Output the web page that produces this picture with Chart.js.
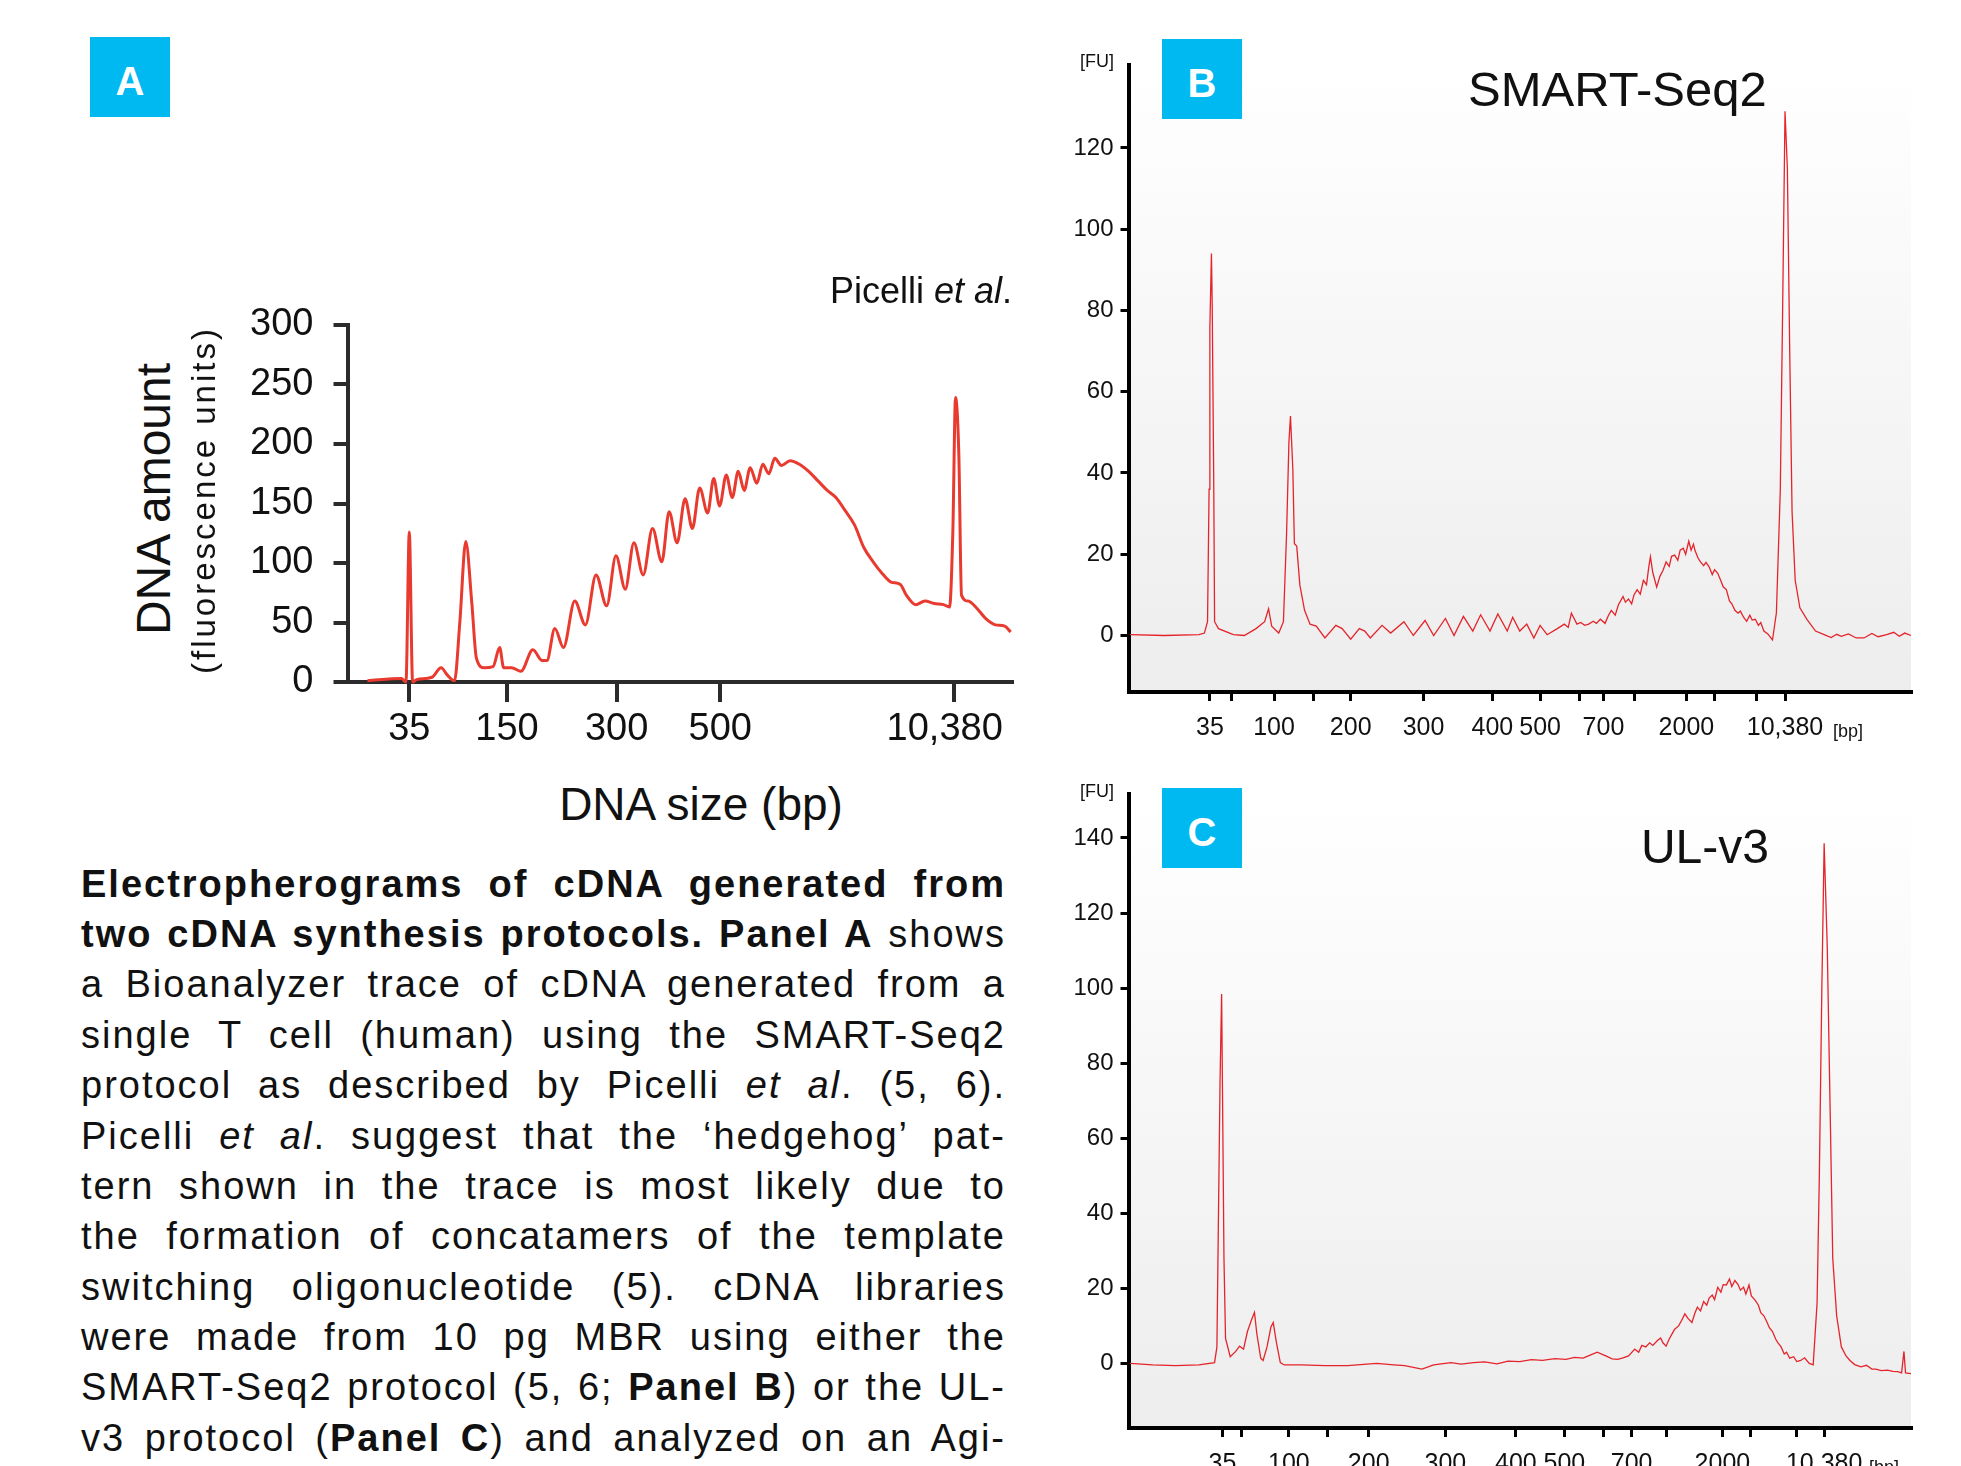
<!DOCTYPE html>
<html>
<head>
<meta charset="utf-8">
<script src="https://cdn.jsdelivr.net/npm/chart.js@4.4.1/dist/chart.umd.min.js"></script>
<style>
  html, body { margin:0; padding:0; background:#fff; }
  body { width:1961px; height:1466px; position:relative; overflow:hidden;
         font-family:'Liberation Sans', Arial, sans-serif; color:#111; }
  canvas { position:absolute; }
  .t { position:absolute; white-space:nowrap; }
  .box { position:absolute; width:80px; height:80px; background:#00b9f1; color:#fff;
         font-weight:bold; font-size:40px; line-height:88px; text-align:center; }
  .ln { position:absolute; left:81px; width:925px; font-size:38px; line-height:38px; letter-spacing:2px;
        text-align:justify; text-align-last:justify; }
  .rot { position:absolute; white-space:nowrap; transform:translate(-50%,-50%) rotate(-90deg); }
</style>
</head>
<body>

<!-- panel A -->
<div class="box" style="left:90px;top:37px">A</div>
<canvas id="chartA" width="830" height="460" style="left:200px;top:300px"></canvas>
<div class="t" style="left:700px;top:273px;width:312px;text-align:right;font-size:36px;line-height:36px">Picelli <i>et al</i>.</div>
<div class="rot" style="left:153px;top:499px;font-size:48px">DNA amount</div>
<div class="rot" style="left:204px;top:500px;font-size:33px;letter-spacing:3px">(fluorescence units)</div>
<div class="t" style="left:451px;top:781px;width:500px;text-align:center;font-size:46px;line-height:46px">DNA size (bp)</div>

<!-- caption -->
<div class="ln" style="top:865px"><b>Electropherograms of cDNA generated from</b></div>
<div class="ln" style="top:915px"><b>two cDNA synthesis protocols. Panel A</b> shows</div>
<div class="ln" style="top:965px">a Bioanalyzer trace of cDNA generated from a</div>
<div class="ln" style="top:1016px">single T cell (human) using the SMART-Seq2</div>
<div class="ln" style="top:1066px">protocol as described by Picelli <i>et al</i>. (5, 6).</div>
<div class="ln" style="top:1117px">Picelli <i>et al</i>. suggest that the ‘hedgehog’ pat-</div>
<div class="ln" style="top:1167px">tern shown in the trace is most likely due to</div>
<div class="ln" style="top:1217px">the formation of concatamers of the template</div>
<div class="ln" style="top:1268px">switching oligonucleotide (5). cDNA libraries</div>
<div class="ln" style="top:1318px">were made from 10 pg MBR using either the</div>
<div class="ln" style="top:1368px">SMART-Seq2 protocol (5, 6; <b>Panel B</b>) or the UL-</div>
<div class="ln" style="top:1419px">v3 protocol (<b>Panel C</b>) and analyzed on an Agi-</div>

<!-- panel B -->
<canvas id="chartB" width="900" height="730" style="left:1040px;top:40px"></canvas>
<div class="box" style="left:1162px;top:39px">B</div>
<div class="t" style="left:1080px;top:52px;font-size:18px;line-height:18px">[FU]</div>
<div class="t" style="left:1468px;top:65px;font-size:49px;line-height:49px">SMART-Seq2</div>
<div class="t" style="left:1833px;top:722px;font-size:18px;line-height:18px">[bp]</div>

<!-- panel C -->
<canvas id="chartC" width="900" height="696" style="left:1040px;top:770px"></canvas>
<div class="box" style="left:1162px;top:788px">C</div>
<div class="t" style="left:1080px;top:782px;font-size:18px;line-height:18px">[FU]</div>
<div class="t" style="left:1500px;top:823px;width:269px;text-align:right;font-size:48px;line-height:48px">UL-v3</div>
<div class="t" style="left:1869px;top:1458px;font-size:18px;line-height:18px">[bp]</div>

<script>
// x positions are migration positions (0-100 across the axis), y in fluorescence units

// panel A (Picelli et al.)
const aTickPos = [9.3, 24.0, 40.5, 56.1, 91.3]
const aTickLabels = ['35', '150', '300', '500', '10,380\u2002']
const aYTicks = [0, 50, 100, 150, 200, 250, 300]
const aX = [3.0, 8.1, 8.8, 9.3, 9.8, 10.4, 12.7, 14.1, 15.0, 16.1, 16.9, 17.8, 18.7, 19.4, 20.6, 21.9, 22.9, 23.5, 24.7, 26.1,
  27.9, 29.3, 30.0, 31.2, 32.5, 34.2, 35.8, 37.4, 39.0, 40.4, 41.8, 43.1, 44.5, 45.9, 47.3, 48.4, 49.6, 50.8, 51.9, 53.0,
  54.2, 55.1, 56.0, 57.0, 57.9, 58.8, 59.7, 60.6, 61.6, 62.5, 63.4, 64.3, 65.3, 66.6, 68.0, 69.4, 70.8, 72.2, 73.5, 74.9,
  76.3, 77.7, 79.1, 80.5, 81.8, 83.2, 84.1, 85.5, 86.9, 88.3, 89.7, 90.6, 91.1, 91.5, 92.0, 92.4, 93.4, 94.7, 96.1, 97.5,
  98.9, 99.8]
const aY = [1, 3, 0, 126, 0, 2, 4, 12, 6, 1, 50, 118, 67, 20, 12, 13, 29, 12, 12, 9,
  27, 18, 18, 45, 29, 68, 48, 90, 64, 106, 78, 117, 90, 129, 101, 143, 117, 154, 129, 163,
  142, 171, 148, 174, 155, 177, 161, 180, 167, 183, 175, 188, 182, 186, 183, 177, 169, 161, 155, 144,
  132, 113, 101, 91, 84, 82, 73, 65, 68, 66, 65, 63, 127, 239, 191, 73, 68, 62, 53, 48,
  47, 42]

// ladder ticks shared by B and C
const ladderLabels = ['35', '', '100', '', '200', '300', '400', '500', '', '700', '', '2000', '', '', '10,380']
const fuTicksB = [0, 20, 40, 60, 80, 100, 120]
const fuTicksC = [0, 20, 40, 60, 80, 100, 120, 140]

// panel B (SMART-Seq2)
const bTickPos = [10.4, 13.1, 18.6, 23.7, 28.4, 37.7, 46.5, 52.6, 57.6, 60.7, 64.7, 71.3, 74.9, 80.2, 83.9]
const bX = [0.2, 4.6, 9.0, 9.7, 10.1, 10.3, 10.4, 10.6, 10.7, 10.9,
  11.0, 11.5, 13.4, 14.8, 16.3, 17.4, 17.9, 18.3, 19.2, 19.8,
  20.2, 20.5, 20.7, 21.0, 21.2, 21.5, 21.9, 22.5, 23.2, 24.0,
  25.1, 26.5, 27.3, 28.4, 29.5, 30.2, 30.9, 32.4, 33.5, 35.2,
  36.4, 37.9, 39.0, 40.5, 41.6, 42.8, 44.0, 45.0, 46.2, 47.2,
  48.4, 49.1, 50.0, 50.9, 51.8, 52.6, 53.5, 54.8, 55.7, 56.2,
  56.6, 57.0, 57.3, 57.8, 58.3, 58.8, 59.4, 59.8, 60.3, 60.9,
  61.3, 61.7, 62.2, 62.6, 63.2, 63.5, 63.9, 64.3, 64.6, 65.0,
  65.4, 65.8, 66.2, 66.5, 66.7, 67.0, 67.5, 67.9, 68.3, 68.7,
  69.1, 69.4, 69.8, 70.2, 70.5, 70.9, 71.2, 71.6, 71.9, 72.2,
  72.4, 72.8, 73.1, 73.5, 73.8, 74.2, 74.6, 74.9, 75.3, 75.7,
  76.0, 76.4, 76.8, 77.1, 77.5, 77.9, 78.2, 78.6, 79.0, 79.4,
  79.7, 80.1, 80.5, 80.8, 81.2, 81.7, 82.3, 82.8, 83.3, 83.6,
  83.9, 84.2, 84.5, 84.8, 85.2, 85.8, 86.7, 87.8, 88.9, 89.8,
  90.5, 91.1, 92.0, 93.0, 94.0, 95.0, 95.8, 96.9, 97.8, 98.5,
  99.2, 100]
const bY = [0.2, 0, 0.2, 0.6, 3.4, 36, 76, 94, 81, 36,
  3.4, 1.7, 0.2, 0, 1.7, 3.4, 6.6, 2.3, 0.6, 3.4,
  25, 47.5, 54, 41, 22.6, 22, 12.4, 6.2, 2.8, 2.3,
  -0.6, 2.5, 1.7, -0.9, 1.7, 1.1, -0.6, 2.5, 0.6, 3.4,
  0, 3.7, 0, 4.2, 0, 4.7, 1.1, 5.1, 1.1, 5.3,
  1.1, 4.5, 1.1, 2.8, -0.6, 2.5, 0.2, 1.7, 2.8, 2.0,
  5.5, 4.0, 2.8, 3.2, 2.5, 2.8, 3.5, 3.0, 4.0, 3.0,
  4.8, 6.2, 5.0, 7.5, 9.6, 8.2, 9.0, 7.8, 10.0, 11.3,
  10.2, 13.6, 12.5, 17.0, 19.4, 15.5, 11.9, 14.5, 16.0, 18.1,
  17.0, 19.5, 19.8, 18.5, 21.0, 21.5, 20.0, 23.2, 21.0, 22.5,
  20.9, 19.0, 18.1, 17.2, 18.0, 16.9, 15.0, 16.2, 15.3, 13.5,
  12.0, 11.3, 8.5, 7.8, 6.2, 5.5, 6.0, 4.5, 3.5, 5.0,
  3.8, 4.0, 2.5, 3.2, 1.1, 0.4, -1.1, 5.6, 36, 81,
  129, 115, 70, 30.5, 13.6, 6.8, 4.0, 1.1, 0.2, -0.5,
  0.3, -0.2, 0.4, -0.6, -0.6, 0.5, -0.3, 0.2, 0.8, -0.2,
  0.6, 0]

// panel C (UL-v3)
const cTickPos = [12.0, 14.4, 20.5, 25.4, 30.7, 40.5, 49.5, 55.7, 60.7, 64.3, 68.8, 75.9, 79.5, 85.4, 88.9]
const cX = [0.2, 3.1, 6.0, 9.0, 11.0, 11.3, 11.5, 11.7, 11.9, 12.0,
  12.2, 12.4, 13.0, 13.7, 14.2, 14.7, 15.2, 15.7, 16.1, 16.4,
  16.9, 17.2, 17.7, 18.2, 18.5, 18.9, 19.4, 19.9, 22.1, 25.1,
  28.0, 31.7, 33.9, 35.3, 37.5, 39.0, 41.2, 42.5, 44.1, 45.5,
  47.1, 48.5, 50.0, 51.5, 52.9, 54.5, 55.9, 57.0, 58.1, 59.0,
  59.9, 61.0, 61.8, 62.5, 63.2, 63.9, 64.7, 65.2, 65.6, 66.1,
  66.6, 67.0, 67.6, 68.0, 68.3, 68.7, 69.1, 69.5, 69.8, 70.3,
  70.7, 71.1, 71.5, 72.0, 72.4, 72.7, 73.1, 73.5, 73.9, 74.2,
  74.6, 74.9, 75.3, 75.7, 76.0, 76.4, 76.8, 77.1, 77.5, 77.9,
  78.2, 78.6, 78.9, 79.3, 79.6, 80.1, 80.5, 80.8, 81.2, 81.6,
  81.9, 82.3, 82.7, 83.0, 83.4, 83.8, 84.1, 84.5, 85.0, 85.4,
  85.9, 86.4, 87.0, 87.5, 88.0, 88.3, 88.6, 88.9, 89.3, 89.7,
  90.0, 90.5, 91.1, 91.7, 92.2, 92.8, 93.6, 94.3, 95.0, 95.5,
  96.2, 97.0, 97.7, 98.3, 98.8, 99.1, 99.3, 100]
const cY = [0, -0.4, -0.6, -0.4, 0.2, 4.4, 39.8, 75.3, 98.4, 75.3,
  28.0, 6.7, 1.8, 3.2, 4.6, 3.8, 8.5, 11.5, 13.6, 7.9,
  1.4, 0.8, 4.4, 9.7, 10.9, 5.6, 0.2, -0.4, -0.4, -0.6,
  -0.6, 0, -0.4, -0.6, -1.5, -0.4, 0.2, -0.2, 0.2, 0.4,
  -0.1, 0.6, 0.5, 1.0, 0.8, 1.3, 1.1, 1.6, 1.4, 2.2,
  3.0, 2.0, 1.2, 1.1, 1.5, 2.0, 3.8, 3.0, 4.8, 4.4,
  5.5, 4.8, 6.1, 6.8, 5.5, 4.6, 6.5, 8.0, 9.1, 10.0,
  11.5, 13.2, 12.0, 10.9, 13.5, 15.0, 14.0, 16.5, 15.5, 17.4,
  18.2, 17.0, 20.3, 19.0, 21.0, 20.9, 22.5, 20.5, 22.1, 21.0,
  19.5, 20.3, 18.5, 20.9, 18.0, 16.8, 15.5, 13.5, 12.7, 11.0,
  9.5, 8.5, 6.5, 5.5, 4.4, 2.5, 3.0, 1.4, 1.8, 0.5,
  0.8, 1.5, 0, -0.4, 16.2, 51.7, 99.0, 138.6, 110.8, 63.5,
  28.0, 12.7, 4.4, 2.0, 0.8, -0.3, -0.9, -0.5, -1.5, -1.5,
  -1.9, -1.8, -2.1, -2.2, -2.5, 3.2, -2.5, -2.7]

Chart.defaults.font.family = "'Liberation Sans', Arial, sans-serif"

// light grey gradient behind the Bioanalyzer traces
const plotBg = {
  id: 'plotBg',
  beforeDraw(chart){
    const {ctx, chartArea: a} = chart
    const g = ctx.createLinearGradient(0, a.top, 0, a.bottom)
    g.addColorStop(0, '#ffffff')
    g.addColorStop(1, '#ededed')
    ctx.save()
    ctx.fillStyle = g
    ctx.fillRect(a.left, a.top, a.right - a.left, a.bottom - a.top)
    ctx.restore()
  }
}

function makeChart(id, c){
  return new Chart(document.getElementById(id), {
    type: 'line',
    data: { datasets: [{
      data: c.xs.map((x, i) => ({x, y: c.ys[i]})),
      borderColor: c.color, borderWidth: c.lw, pointRadius: 0, clip: false,
      cubicInterpolationMode: c.smooth ? 'monotone' : 'default', tension: 0
    }]},
    plugins: c.bg ? [plotBg] : [],
    options: {
      responsive: false, animation: false, events: [],
      layout: { padding: c.pad },
      plugins: { legend: {display: false}, tooltip: {enabled: false} },
      scales: {
        x: {
          type: 'linear', min: 0, max: 100,
          afterBuildTicks: ax => { ax.ticks = c.xTicks.map(v => ({value: v})) },
          afterFit: ax => { ax.height = c.xH; ax.paddingLeft = 0; ax.paddingRight = 0 },
          ticks: { autoSkip: false, maxRotation: 0, padding: c.xPad, color: '#111',
                   font: {size: c.fsX}, callback: (v, i) => c.xLabels[i] },
          grid: { drawOnChartArea: false, tickLength: c.xTickLen, tickWidth: c.tickW, lineWidth: c.tickW, tickColor: c.axis },
          border: { display: true, width: c.axisW, color: c.axis }
        },
        y: {
          min: c.yMin, max: c.yMax,
          afterBuildTicks: ax => { ax.ticks = c.yTicks.map(v => ({value: v})) },
          afterFit: ax => { ax.width = c.yW; ax.paddingTop = 0; ax.paddingBottom = 0 },
          ticks: { padding: c.yPad, color: '#111', font: {size: c.fsY}, callback: v => String(v) },
          grid: { drawOnChartArea: false, tickLength: c.yTickLen, tickWidth: c.tickW, lineWidth: c.tickW, tickColor: c.axis },
          border: { display: true, width: c.axisW, color: c.axis }
        }
      }
    }
  })
}

makeChart('chartA', {
  xs: aX, ys: aY, color: '#e83a2f', lw: 3, bg: false, smooth: true,
  pad: {top: 25, right: 18, left: 0, bottom: 0},
  xTicks: aTickPos, xLabels: aTickLabels, yTicks: aYTicks, yMin: 0, yMax: 300,
  xH: 78, yW: 147.5, fsX: 38, fsY: 38, xPad: 5, yPad: 20, xTickLen: 20, yTickLen: 14,
  tickW: 4, axisW: 4, axis: '#2b2b2b'
})

makeChart('chartB', {
  xs: bX, ys: bY, color: '#e4242b', lw: 1.3, bg: true, smooth: false,
  pad: {top: 25, right: 29, left: 0, bottom: 0},
  xTicks: bTickPos, xLabels: ladderLabels, yTicks: fuTicksB, yMin: -13.9, yMax: 140.4,
  xH: 78, yW: 88.5, fsX: 25, fsY: 24, xPad: 12, yPad: 7, xTickLen: 9, yTickLen: 8,
  tickW: 3, axisW: 4, axis: '#000'
})

makeChart('chartC', {
  xs: cX, ys: cY, color: '#e4242b', lw: 1.3, bg: true, smooth: false,
  pad: {top: 24.4, right: 29, left: 0, bottom: 0},
  xTicks: cTickPos, xLabels: ladderLabels, yTicks: fuTicksC, yMin: -17.2, yMax: 151.6,
  xH: 38, yW: 88.5, fsX: 25, fsY: 24, xPad: 12, yPad: 7, xTickLen: 9, yTickLen: 8,
  tickW: 3, axisW: 4, axis: '#000'
})
</script>
</body>
</html>
